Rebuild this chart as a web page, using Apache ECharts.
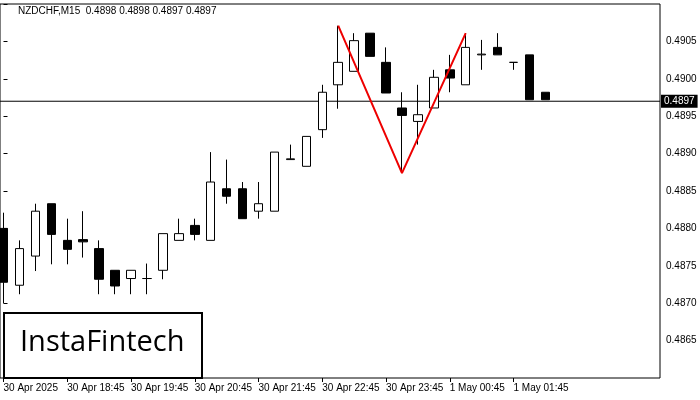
<!DOCTYPE html>
<html><head><meta charset="utf-8">
<script src="https://cdn.jsdelivr.net/npm/echarts@6/dist/echarts.min.js"></script>
<style>html,body{margin:0;background:#fff}#c{width:700px;height:400px}</style>
</head><body><div id="c"></div>
<script>
const tickIdx = [0, 4, 8, 12, 16, 20, 24, 28, 32];
const tickLabels = ['30 Apr 2025','30 Apr 18:45','30 Apr 19:45','30 Apr 20:45','30 Apr 21:45','30 Apr 22:45','30 Apr 23:45','1 May 00:45','1 May 01:45'];
// [open, close, low, high]
const ohlc = [
[0.48800,0.48728,0.48700,0.48821],[0.48724,0.48773,0.48712,0.48784],[0.48763,0.48823,0.48743,0.48833],
[0.48833,0.48792,0.48752,0.48833],[0.48784,0.48772,0.48752,0.48813],[0.48785,0.48782,0.48761,0.48823],
[0.48773,0.48732,0.48712,0.48784],[0.48744,0.48723,0.48712,0.48744],[0.48733,0.48744,0.48712,0.48744],
[0.48733,0.48733,0.48712,0.48753],[0.48744,0.48793,0.48732,0.48793],[0.48784,0.48793,0.48784,0.48813],
[0.48804,0.48792,0.48784,0.48813],[0.48784,0.48862,0.48784,0.48902],[0.48853,0.48843,0.48833,0.48892],
[0.48853,0.48813,0.48813,0.48862],[0.48823,0.48833,0.48813,0.48862],[0.48823,0.48902,0.48823,0.48902],
[0.48892,0.48893,0.48892,0.48912],[0.48883,0.48923,0.48883,0.48923],[0.48932,0.48982,0.48921,0.48992],
[0.48992,0.49022,0.48960,0.49071],[0.49010,0.49051,0.49010,0.49061],[0.49061,0.49030,0.49030,0.49061],
[0.49022,0.48981,0.48981,0.49042],[0.48961,0.48951,0.48874,0.48982],[0.48943,0.48952,0.48912,0.48992],
[0.48961,0.49002,0.48961,0.49012],[0.49012,0.49001,0.48982,0.49032],[0.48992,0.49042,0.48992,0.49061],
[0.49032,0.49033,0.49012,0.49052],[0.49042,0.49032,0.49032,0.49061],[0.49022,0.49022,0.49012,0.49022],
[0.49032,0.48972,0.48972,0.49032],[0.48982,0.48972,0.48972,0.48982]
];
const patternIdx = [21, 25, 29];
const patternVal = [0.49071, 0.48874, 0.49061];
const currentPrice = 0.4897;
const X_MIN = -0.22, X_MAX = 41.19;
const candleData = ohlc.map((d, i) => [i].concat(d));
const pattern = patternIdx.map((k, j) => [k, patternVal[j]]);
const chart = echarts.init(document.getElementById('c'));
const F = 'Liberation Sans';
chart.setOption({
  animation: false,
  textStyle: {fontFamily: F},
  grid: {left: 0, right: 40, top: 4, bottom: 22, show: true, borderColor: '#000', borderWidth: 1},
  xAxis: {type: 'value', min: X_MIN, max: X_MAX,
    axisLine: {show: false},
    axisTick: {show: true, customValues: tickIdx, lineStyle: {color: '#000'}, length: 4},
    axisLabel: {customValues: tickIdx, align: 'left', fontSize: 10, color: '#000', margin: 5,
      formatter: v => tickLabels[tickIdx.indexOf(Math.round(v))] || ''},
    splitLine: {show: false}},
  yAxis: {type: 'value', position: 'right', min: 0.4860, max: 0.4910, interval: 0.0005,
    axisLine: {show: false}, axisTick: {show: true, length: 4, lineStyle: {color: '#000'}},
    axisLabel: {fontSize: 10, color: '#000', margin: 6,
      formatter: v => (v < 0.48625 || v > 0.49075) ? '' : v.toFixed(4)},
    splitLine: {show: false}},
  series: [
    {type: 'line', data: [[X_MIN, currentPrice], [X_MAX, currentPrice]], symbol: 'none', clip: false,
     lineStyle: {color: '#000', width: 1}, z: 1,
     endLabel: {show: true, formatter: currentPrice.toFixed(4), backgroundColor: '#000', color: '#fff', fontSize: 10, padding: [2, 3, 1, 3], distance: 1}},
    {type: 'candlestick', data: candleData, encode: {x: 0, y: [1, 2, 3, 4]}, barWidth: 9, z: 2,
     itemStyle: {color: '#fff', color0: '#000', borderColor: '#000', borderColor0: '#000', borderWidth: 1}},
    {type: 'line', data: pattern, symbol: 'none', lineStyle: {color: '#ee0000', width: 2}, z: 5}
  ],
  graphic: [
    {type: 'text', left: 18, top: 6, style: {text: 'NZDCHF,M15  0.4898 0.4898 0.4897 0.4897', fontSize: 10, fill: '#000', fontFamily: F}},
    {type: 'rect', left: 3, top: 312, shape: {width: 198, height: 65}, style: {fill: '#fff', stroke: '#000', lineWidth: 2}, z: 10},
    {type: 'text', left: 20, top: 328, style: {text: 'InstaFintech', fontSize: 29, fill: '#000', fontFamily: 'Open Sans'}, z: 11}
  ]
});
</script></body></html>
